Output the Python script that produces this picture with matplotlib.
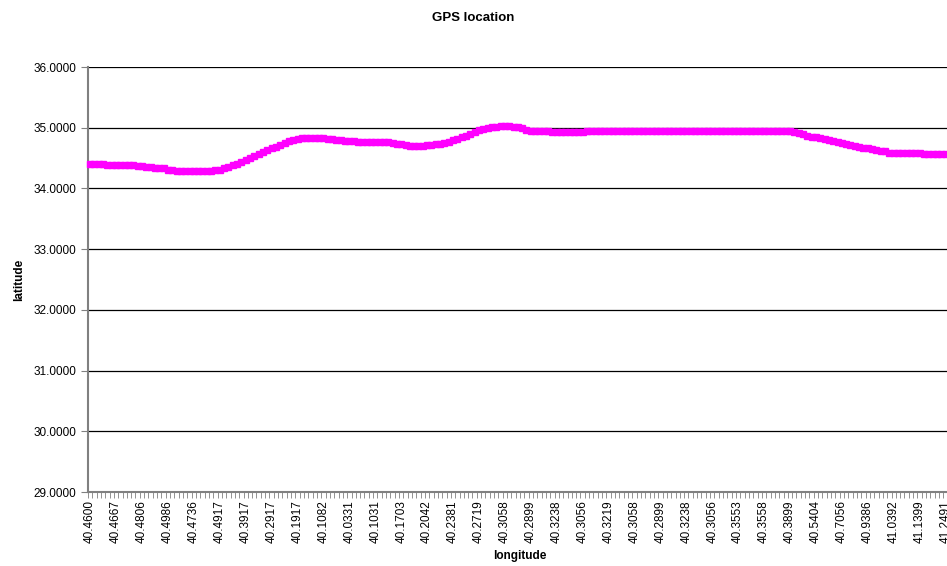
import matplotlib
matplotlib.use("Agg")
import matplotlib.pyplot as plt

plt.rcParams["font.family"] = ["Liberation Sans", "DejaVu Sans"]

# category labels shown on the x axis (every 6th point)
lon_labels = ["40.4600", "40.4667", "40.4806", "40.4986", "40.4736", "40.4917",
              "40.3917", "40.2917", "40.1917", "40.1082", "40.0331", "40.1031",
              "40.1703", "40.2042", "40.2381", "40.2719", "40.3058", "40.2899",
              "40.3238", "40.3056", "40.3219", "40.3058", "40.2899", "40.3238",
              "40.3056", "40.3553", "40.3558", "40.3899", "40.5404", "40.7056",
              "40.9386", "41.0392", "41.1399", "41.2491"]
label_every = 6

# latitude, one value per GPS fix
lat = [34.40, 34.40, 34.40, 34.40, 34.39, 34.39, 34.39, 34.39, 34.39, 34.39,
       34.38, 34.37, 34.37, 34.36, 34.35, 34.34, 34.33, 34.33, 34.31, 34.30,
       34.29, 34.29, 34.29, 34.29, 34.29, 34.29, 34.29, 34.29, 34.29, 34.30,
       34.31, 34.33, 34.35, 34.38, 34.41, 34.44, 34.47, 34.50, 34.53, 34.56,
       34.60, 34.63, 34.66, 34.69, 34.72, 34.75, 34.78, 34.80, 34.82, 34.83,
       34.83, 34.83, 34.83, 34.83, 34.83, 34.82, 34.81, 34.80, 34.79, 34.78,
       34.78, 34.78, 34.77, 34.77, 34.77, 34.77, 34.76, 34.76, 34.76, 34.76,
       34.75, 34.74, 34.73, 34.72, 34.70, 34.70, 34.70, 34.70, 34.71, 34.72,
       34.73, 34.74, 34.75, 34.77, 34.79, 34.81, 34.84, 34.87, 34.90, 34.93,
       34.96, 34.98, 35.00, 35.01, 35.02, 35.03, 35.03, 35.03, 35.02, 35.01,
       34.99, 34.97, 34.95, 34.95, 34.95, 34.94, 34.94, 34.93, 34.93, 34.93,
       34.93, 34.93, 34.93, 34.93, 34.93, 34.94, 34.94, 34.94, 34.94, 34.94,
       34.94, 34.94, 34.94, 34.94, 34.94, 34.94, 34.94, 34.94, 34.94, 34.94,
       34.94, 34.94, 34.94, 34.94, 34.94, 34.95, 34.95, 34.95, 34.95, 34.95,
       34.95, 34.95, 34.95, 34.95, 34.95, 34.95, 34.95, 34.95, 34.95, 34.95,
       34.95, 34.95, 34.95, 34.95, 34.95, 34.95, 34.95, 34.95, 34.95, 34.95,
       34.95, 34.95, 34.94, 34.93, 34.91, 34.89, 34.87, 34.85, 34.84, 34.83,
       34.81, 34.79, 34.78, 34.76, 34.75, 34.73, 34.72, 34.70, 34.69, 34.67,
       34.66, 34.65, 34.63, 34.62, 34.61, 34.59, 34.59, 34.59, 34.59, 34.59,
       34.59, 34.59, 34.59, 34.57, 34.56, 34.56, 34.56, 34.56, 34.56, 34.56]

y_ticks = [29, 30, 31, 32, 33, 34, 35, 36]

fig = plt.figure(figsize=(9.47, 5.66), dpi=100)
ax = fig.add_axes([0.0929, 0.1307, 0.9124, 0.7509])

idx = list(range(len(lat)))
ax.plot(idx, lat, color="#ff00ff", lw=2.5, marker="s", ms=4.6,
        mec="#ff00ff", mfc="#ff00ff", zorder=3, clip_on=False)

ax.set_xlim(-0.5, len(lat) - 0.5)
ax.set_ylim(29, 36)
ax.set_yticks(y_ticks)
ax.set_yticklabels([f"{v:.4f}" for v in y_ticks], fontsize=8.5)
ax.yaxis.grid(True, color="black", lw=0.9)
ax.set_axisbelow(True)

ax.set_xticks(range(0, len(lat), label_every))
ax.set_xticklabels(lon_labels[:len(range(0, len(lat), label_every))],
                   rotation=90, fontsize=8.5)
ax.set_xticks([i - 0.5 for i in idx], minor=True)
ax.tick_params(axis="x", which="major", length=0, pad=6)
ax.tick_params(axis="x", which="minor", length=4, color="#808080", direction="out")
ax.tick_params(axis="y", length=5, color="#808080", direction="out")

for s in ("top", "right"):
    ax.spines[s].set_visible(False)
for s in ("left", "bottom"):
    ax.spines[s].set_color("#808080")
    ax.spines[s].set_linewidth(1.5)

# title centred on the whole chart, not on the (clipped) plot area
ax.set_title("GPS location", fontsize=9.5, fontweight="bold", pad=33, x=0.4456)
ax.set_ylabel("latitude", fontsize=8.5, fontweight="bold", labelpad=6)
ax.set_xlabel("longitude", fontsize=8.5, fontweight="bold", labelpad=5)

fig.savefig("out.png", dpi=100)
